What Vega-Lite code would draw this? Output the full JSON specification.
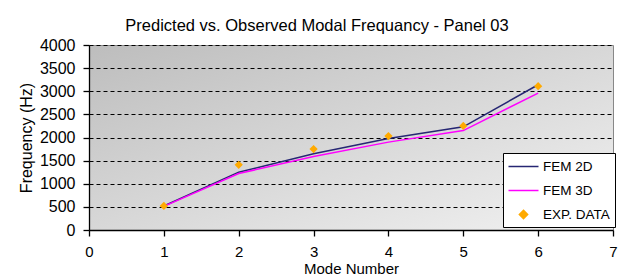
{
  "$schema": "https://vega.github.io/schema/vega-lite/v6.json",
  "autosize": "none",
  "width": 524,
  "height": 185,
  "padding": {"left": 89, "top": 45, "right": 9, "bottom": 47},
  "background": "white",
  "title": {
    "text": "Predicted vs. Observed Modal Frequancy - Panel 03",
    "anchor": "middle",
    "frame": "group",
    "dx": -34,
    "offset": 3,
    "font": "Liberation Sans",
    "fontSize": 16.5,
    "fontWeight": "normal",
    "color": "black"
  },
  "config": {
    "view": {
      "stroke": "#888888",
      "strokeWidth": 1,
      "fill": {
        "gradient": "linear",
        "x1": 0, "y1": 0, "x2": 1, "y2": 1,
        "stops": [
          {"offset": 0, "color": "#bdbdbd"},
          {"offset": 1, "color": "#f2f2f2"}
        ]
      }
    },
    "axis": {
      "labelFont": "Liberation Sans",
      "titleFont": "Liberation Sans",
      "labelColor": "black",
      "titleColor": "black",
      "labelFontSize": 16,
      "titleFontSize": 16,
      "titleFontWeight": "normal",
      "domainColor": "black",
      "tickColor": "black",
      "domainWidth": 1.3,
      "tickWidth": 1.3
    }
  },
  "datasets": {
    "freq": [
      {"mode": 1, "series": "FEM  2D", "freq": 520},
      {"mode": 2, "series": "FEM  2D", "freq": 1250},
      {"mode": 3, "series": "FEM  2D", "freq": 1650},
      {"mode": 4, "series": "FEM  2D", "freq": 1980},
      {"mode": 5, "series": "FEM  2D", "freq": 2230},
      {"mode": 6, "series": "FEM  2D", "freq": 3140},
      {"mode": 1, "series": "FEM  3D", "freq": 510},
      {"mode": 2, "series": "FEM  3D", "freq": 1220},
      {"mode": 3, "series": "FEM  3D", "freq": 1590},
      {"mode": 4, "series": "FEM  3D", "freq": 1900},
      {"mode": 5, "series": "FEM  3D", "freq": 2150},
      {"mode": 6, "series": "FEM  3D", "freq": 2960},
      {"mode": 1, "series": "EXP. DATA", "freq": 520},
      {"mode": 2, "series": "EXP. DATA", "freq": 1410},
      {"mode": 3, "series": "EXP. DATA", "freq": 1750},
      {"mode": 4, "series": "EXP. DATA", "freq": 2030},
      {"mode": 5, "series": "EXP. DATA", "freq": 2250},
      {"mode": 6, "series": "EXP. DATA", "freq": 3110}
    ]
  },
  "data": {"name": "freq"},
  "encoding": {
    "x": {
      "field": "mode",
      "type": "quantitative",
      "scale": {"domain": [0, 7], "nice": false},
      "axis": {
        "title": "Mode Number",
        "values": [0, 1, 2, 3, 4, 5, 6, 7],
        "format": "d",
        "grid": false,
        "tickSize": 6,
        "labelPadding": 8,
        "labelFontSize": 15,
        "titleFontSize": 15,
        "labelFlush": false,
        "titleBaseline": "alphabetic",
        "titleY": 43
      }
    },
    "y": {
      "field": "freq",
      "type": "quantitative",
      "scale": {"domain": [0, 4000], "nice": false},
      "axis": {
        "title": "Frequency (Hz)",
        "values": [0, 500, 1000, 1500, 2000, 2500, 3000, 3500, 4000],
        "format": "d",
        "grid": true,
        "gridColor": "black",
        "gridDash": [4, 3],
        "gridWidth": 1.2,
        "tickSize": 6,
        "labelPadding": 8,
        "titlePadding": 5
      }
    },
    "color": {
      "field": "series",
      "type": "nominal",
      "scale": {
        "domain": ["FEM  2D", "FEM  3D", "EXP. DATA"],
        "range": ["#262673", "#ff00ff", "#ffaa00"]
      },
      "legend": {
        "title": null,
        "orient": "none",
        "legendX": 414,
        "legendY": 108,
        "fillColor": "white",
        "strokeColor": "black",
        "padding": 5,
        "rowPadding": 9,
        "symbolSize": 225,
        "symbolOffset": 7,
        "labelOffset": 11,
        "labelFont": "Liberation Sans",
        "labelFontSize": 13.5,
        "labelColor": "black",
        "encode": {
          "symbols": {
            "update": {
              "stroke": {"signal": "scale('color', datum.value)"},
              "fill": {"signal": "scale('color', datum.value)"},
              "strokeWidth": {"value": 1.5}
            }
          }
        }
      }
    },
    "shape": {
      "field": "series",
      "type": "nominal",
      "scale": {
        "domain": ["FEM  2D", "FEM  3D", "EXP. DATA"],
        "range": ["M-2,0H2", "M-2,0H2", "M0,-0.55L0.55,0L0,0.55L-0.55,0Z"]
      },
      "legend": null
    }
  },
  "layer": [
    {
      "transform": [{"filter": "datum.series != 'EXP. DATA'"}],
      "mark": {"type": "line", "strokeWidth": 1.5},
      "encoding": {"shape": null}
    },
    {
      "transform": [{"filter": "datum.series == 'EXP. DATA'"}],
      "mark": {"type": "point", "filled": true, "opacity": 1, "size": 225}
    }
  ]
}
